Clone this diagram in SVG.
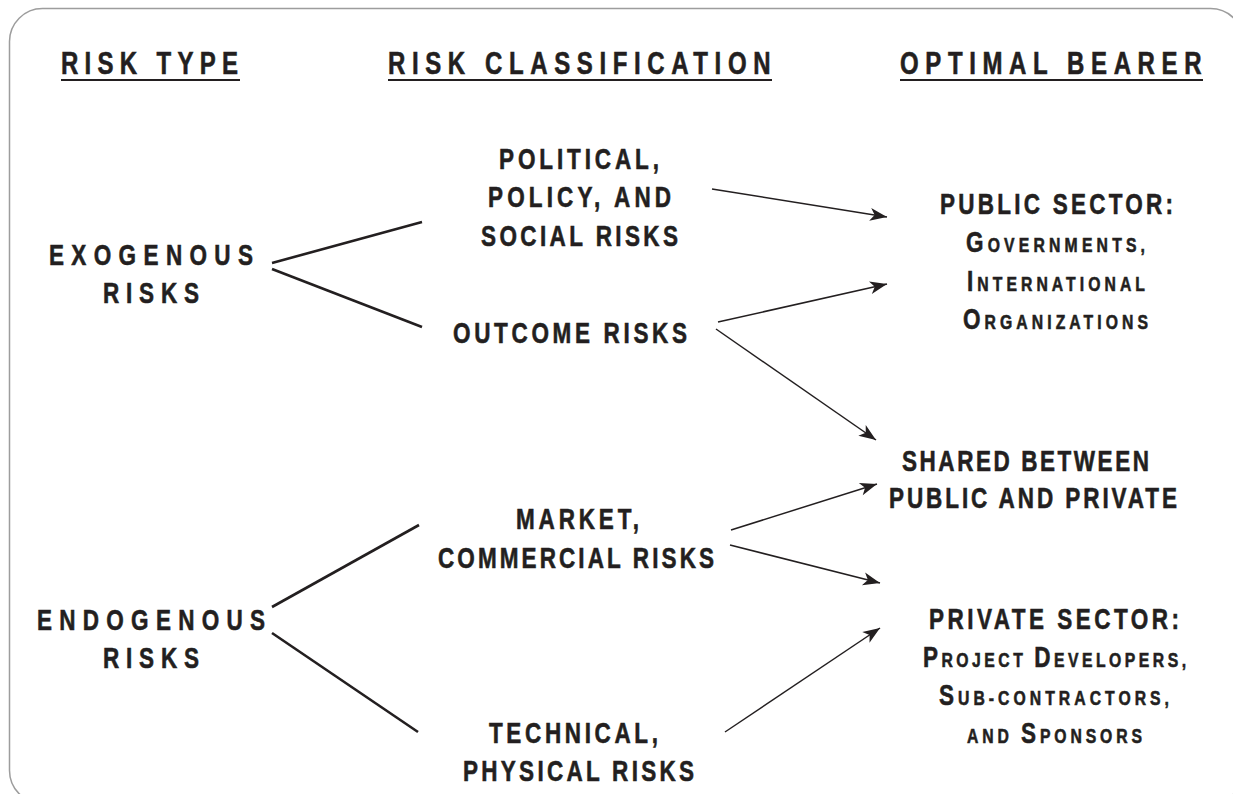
<svg xmlns="http://www.w3.org/2000/svg" width="1233" height="794" viewBox="0 0 1233 794">
<defs>
<style>
text{font-family:"Liberation Sans",Arial,sans-serif;font-weight:bold;fill:#231f20;stroke:#231f20;stroke-width:0.6;}
.h{font-size:32px;}
.n{font-size:30px;}
.sc{font-size:21px;}
.thick{stroke:#231f20;stroke-width:2.6;fill:none;}
.arrow{stroke:#231f20;stroke-width:1.5;fill:none;marker-end:url(#ah);}
.ul{stroke:#231f20;stroke-width:2;}
</style>
<marker id="ah" markerUnits="userSpaceOnUse" viewBox="-18 -7 19 14" refX="0" refY="0" markerWidth="19" markerHeight="14" orient="auto">
<path d="M0,0 L-17,-6.5 L-12.5,0 L-17,6.5 Z" fill="#231f20"/>
</marker>
</defs>
<rect x="9.5" y="8.5" width="1234" height="795" rx="33" ry="33" fill="#ffffff" stroke="#9d9d9d" stroke-width="1.5"/>

<g id="headers">
<g transform="scale(0.75 1)">
<text class="h" x="81.33" y="74" textLength="236" lengthAdjust="spacing">RISK TYPE</text>
<text class="h" x="517.33" y="74" textLength="510" lengthAdjust="spacing">RISK CLASSIFICATION</text>
<text class="h" x="1200" y="74" textLength="402" lengthAdjust="spacing">OPTIMAL BEARER</text>
</g>
<line class="ul" x1="61" y1="80" x2="240" y2="80"/>
<line class="ul" x1="388" y1="80" x2="772" y2="80"/>
<line class="ul" x1="900" y1="80" x2="1203" y2="80"/>
</g>

<g id="exogenous" transform="scale(0.75 1)">
<text class="n" x="65.33" y="265" textLength="272" lengthAdjust="spacing">EXOGENOUS</text>
<text class="n" x="137.33" y="303" textLength="128" lengthAdjust="spacing">RISKS</text>
</g>
<g id="endogenous" transform="scale(0.75 1)">
<text class="n" x="49.33" y="630" textLength="304" lengthAdjust="spacing">ENDOGENOUS</text>
<text class="n" x="137.33" y="668" textLength="128" lengthAdjust="spacing">RISKS</text>
</g>

<g id="political" transform="scale(0.75 1)">
<text class="n" x="665.33" y="169" textLength="213.33" lengthAdjust="spacing">POLITICAL,</text>
<text class="n" x="650.67" y="207" textLength="244" lengthAdjust="spacing">POLICY, AND</text>
<text class="n" x="641.33" y="246" textLength="262.67" lengthAdjust="spacing">SOCIAL RISKS</text>
</g>
<g id="outcome" transform="scale(0.75 1)">
<text class="n" x="604" y="343" textLength="312" lengthAdjust="spacing">OUTCOME RISKS</text>
</g>
<g id="market" transform="scale(0.75 1)">
<text class="n" x="688" y="529" textLength="164" lengthAdjust="spacing">MARKET,</text>
<text class="n" x="584" y="568" textLength="368" lengthAdjust="spacing">COMMERCIAL RISKS</text>
</g>
<g id="technical" transform="scale(0.75 1)">
<text class="n" x="652" y="743" textLength="225.33" lengthAdjust="spacing">TECHNICAL,</text>
<text class="n" x="617.33" y="781" textLength="308" lengthAdjust="spacing">PHYSICAL RISKS</text>
</g>

<g id="public" transform="scale(0.75 1)">
<text class="n" x="1253.33" y="214" textLength="310.67" lengthAdjust="spacing">PUBLIC SECTOR:</text>
<text class="n" x="1288" y="252" textLength="238.67" lengthAdjust="spacing">G<tspan class="sc">OVERNMENTS,</tspan></text>
<text class="n" x="1289.33" y="291" textLength="237.33" lengthAdjust="spacing">I<tspan class="sc">NTERNATIONAL</tspan></text>
<text class="n" x="1284" y="329" textLength="246.67" lengthAdjust="spacing">O<tspan class="sc">RGANIZATIONS</tspan></text>
</g>
<g id="shared" transform="scale(0.75 1)">
<text class="n" x="1202.67" y="471" textLength="329.33" lengthAdjust="spacing">SHARED BETWEEN</text>
<text class="n" x="1185.33" y="508" textLength="384" lengthAdjust="spacing">PUBLIC AND PRIVATE</text>
</g>
<g id="private" transform="scale(0.75 1)">
<text class="n" x="1238.67" y="629" textLength="333.33" lengthAdjust="spacing">PRIVATE SECTOR:</text>
<text class="n" x="1230.67" y="667" textLength="350.67" lengthAdjust="spacing">P<tspan class="sc">ROJECT </tspan>D<tspan class="sc">EVELOPERS,</tspan></text>
<text class="n" x="1252" y="705" textLength="306.67" lengthAdjust="spacing">S<tspan class="sc">UB-CONTRACTORS,</tspan></text>
<text class="n" x="1289.33" y="743" textLength="233.33" lengthAdjust="spacing"><tspan class="sc">AND </tspan>S<tspan class="sc">PONSORS</tspan></text>
</g>

<g id="connectors">
<line class="thick" x1="272" y1="263" x2="422" y2="222"/>
<line class="thick" x1="272" y1="269" x2="422" y2="327"/>
<line class="thick" x1="272" y1="607" x2="419" y2="525"/>
<line class="thick" x1="272" y1="633" x2="418" y2="732"/>
<line class="arrow" x1="712" y1="189" x2="887" y2="217"/>
<line class="arrow" x1="718" y1="322" x2="887" y2="284"/>
<line class="arrow" x1="716" y1="329" x2="876" y2="440"/>
<line class="arrow" x1="731" y1="530" x2="877" y2="484"/>
<line class="arrow" x1="730" y1="545" x2="880" y2="583"/>
<line class="arrow" x1="725" y1="732" x2="880" y2="628"/>
</g>
</svg>
